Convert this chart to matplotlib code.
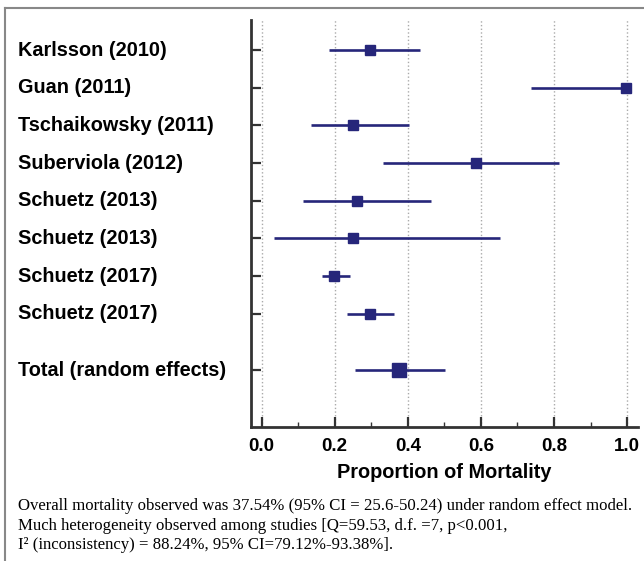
import matplotlib
matplotlib.use("Agg")
import matplotlib.pyplot as plt
from matplotlib.lines import Line2D
import matplotlib.transforms as mtransforms

# study labels and estimates (proportion with 95% CI)
studies = ["Karlsson (2010)", "Guan (2011)", "Tschaikowsky (2011)",
           "Suberviola (2012)", "Schuetz (2013)", "Schuetz (2013)",
           "Schuetz (2017)", "Schuetz (2017)", "Total (random effects)"]
estimate = [0.296, 0.998, 0.251, 0.586, 0.260, 0.251, 0.199, 0.296, 0.375]
ci_low = [0.185, 0.737, 0.134, 0.331, 0.112, 0.035, 0.164, 0.234, 0.256]
ci_high = [0.433, 1.0, 0.403, 0.814, 0.463, 0.652, 0.242, 0.363, 0.502]
rows = [0, 1, 2, 3, 4, 5, 6, 7, 8.5]
xticks = [0.0, 0.2, 0.4, 0.6, 0.8, 1.0]

note = ("Overall mortality observed was 37.54% (95% CI = 25.6-50.24) under random effect model.\n"
        "Much heterogeneity observed among studies [Q=59.53, d.f. =7, p<0.001,\n"
        "I\u00b2 (inconsistency) = 88.24%, 95% CI=79.12%-93.38%].")

navy = "#26267a"
dark = "#333333"
sans = "Liberation Sans"

fig = plt.figure(figsize=(6.44, 5.61), dpi=100)
ax = fig.add_axes([250.7 / 644, 1 - 426.7 / 561, (638 - 250.7) / 644, (426.7 - 20) / 561])

# grid
for x in xticks:
    ax.axvline(x, color="#aaaaaa", linestyle=":", linewidth=1, zorder=0)

# confidence intervals and point estimates
for i in range(len(studies)):
    total = i == len(studies) - 1
    ax.plot([ci_low[i], ci_high[i]], [rows[i], rows[i]], color=navy,
            linewidth=1.9, solid_capstyle="butt", zorder=2)
    ax.plot(estimate[i], rows[i], marker="s", color=navy,
            markersize=10.5 if total else 6.5, clip_on=False, zorder=3)

ax.set_xlim(-0.03, 1.03)
ax.set_ylim(10, -0.8)

ax.spines["top"].set_visible(False)
ax.spines["right"].set_visible(False)
for s in ["left", "bottom"]:
    ax.spines[s].set_linewidth(2.0)
    ax.spines[s].set_color(dark)

ax.set_yticks(rows)
ax.set_yticklabels([])
ax.tick_params(axis="y", direction="in", length=7.5, width=1.6, color=dark)
ax.set_xticks(xticks)
ax.set_xticks([0.1, 0.3, 0.5, 0.7, 0.9], minor=True)
ax.set_xticklabels(["%.1f" % x for x in xticks], fontsize=13.5,
                   fontweight="bold", family=sans)
ax.tick_params(axis="x", which="major", direction="in", length=7.5,
               width=1.6, color=dark, pad=8)
ax.tick_params(axis="x", which="minor", direction="in", length=3.5,
               width=1.0, color=dark)
ax.set_xlabel("Proportion of Mortality", fontsize=14.3, fontweight="bold",
              family=sans, labelpad=6)

# study names on the left
trans = mtransforms.blended_transform_factory(fig.transFigure, ax.transData)
for name, y in zip(studies, rows):
    ax.text(18 / 644, y, name, transform=trans, ha="left", va="center",
            fontsize=14.3, fontweight="bold", family=sans)

# footnote
fig.text(18 / 644, 1 - 498 / 561, note, ha="left", va="top",
         fontsize=12.1, family="Liberation Serif", linespacing=1.3)

# frame lines
fig.add_artist(Line2D([5 / 644, 1], [1 - 8 / 561, 1 - 8 / 561],
                      transform=fig.transFigure, color="#888888", linewidth=1.5))
fig.add_artist(Line2D([5 / 644, 5 / 644], [0, 1 - 8 / 561],
                      transform=fig.transFigure, color="#888888", linewidth=1.5))

fig.savefig("out.png", dpi=100)
